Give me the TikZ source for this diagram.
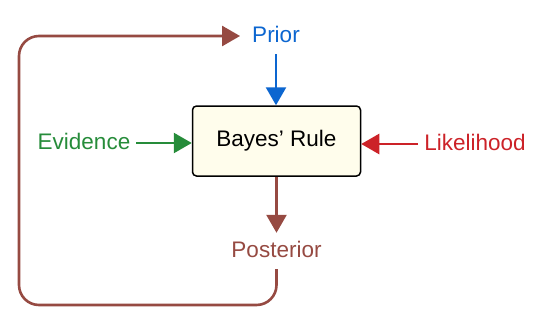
\documentclass[tikz,border=0pt]{standalone}
\usepackage{fontspec}
\setmainfont{Liberation Sans}
\usetikzlibrary{arrows.meta}
\definecolor{figBlue}{RGB}{12,102,208}
\definecolor{figGreen}{RGB}{38,140,58}
\definecolor{figRed}{RGB}{204,34,40}
\definecolor{figBrown}{RGB}{150,74,66}
\definecolor{figCream}{RGB}{255,253,236}

\begin{document}
\begin{tikzpicture}[x=1pt,y=-1pt,>={Triangle[length=18pt,width=20pt]},
  lbl/.style={font=\fontsize{22.5}{27}\selectfont,inner xsep=6pt,inner ysep=8pt,text height=16pt,text depth=4pt},
  flow/.style={->,line width=2.6pt}]
\useasboundingbox (0,0) rectangle (542,319);
\node[draw,line width=1.5pt,rounded corners=4pt,fill=figCream,minimum width=168pt,minimum height=70pt,
  font=\fontsize{22.5}{27}\selectfont] (bayes) at (276.5,141) {Bayes' Rule};
\node[lbl,figBlue] (prior) at (276,36) {Prior};
\node[lbl,figGreen] (evid) at (84,143) {Evidence};
\node[lbl,figRed] (like) at (475,144) {Likelihood};
\node[lbl,figBrown] (post) at (276.5,251) {Posterior};
\draw[flow,figBlue] (prior) -- (prior |- bayes.north);
\draw[flow,figGreen] (evid.east) -- (evid.east -| bayes.west);
\draw[flow,figRed] (like.west) -- (like.west -| bayes.east);
\draw[flow,figBrown] (bayes.south) -- (post.north);
\draw[flow,figBrown,rounded corners=20pt,shorten >=6pt] (post.south) |- (19,305) |- (prior.west);
\end{tikzpicture}
\end{document}
